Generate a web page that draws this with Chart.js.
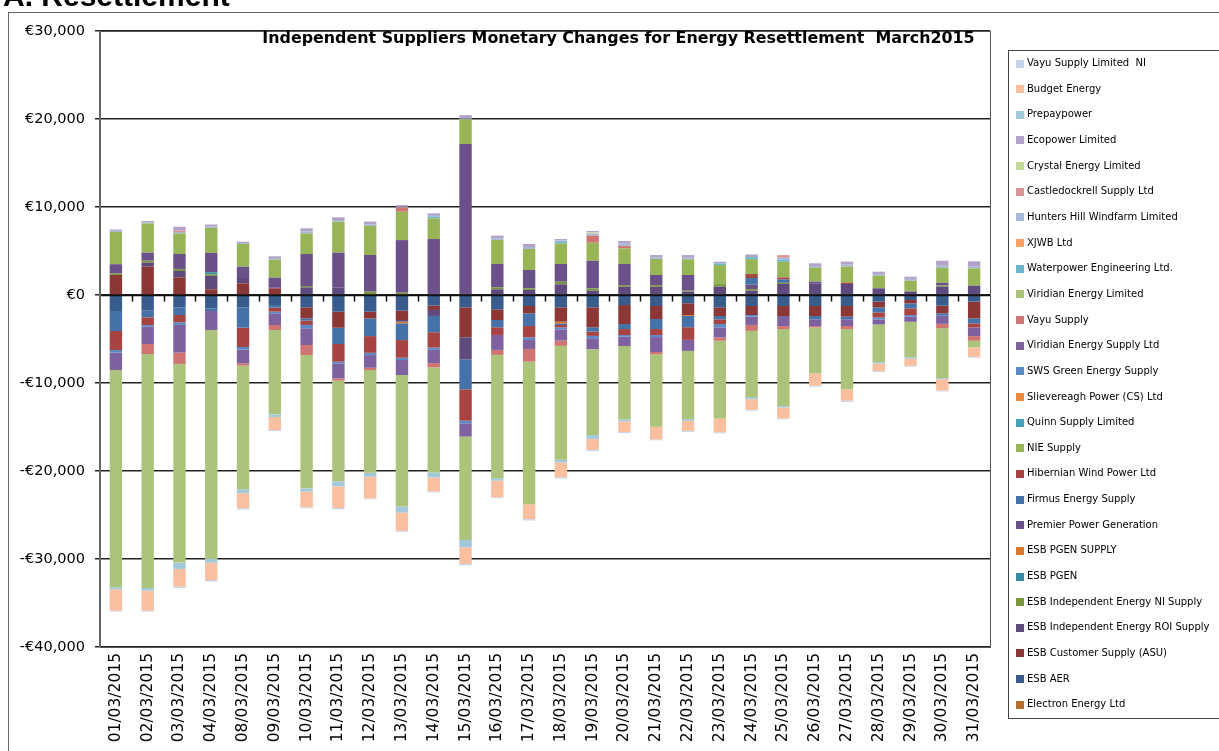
<!DOCTYPE html>
<html>
<head>
<meta charset="utf-8">
<script src="https://cdn.jsdelivr.net/npm/chart.js@4.4.1/dist/chart.umd.min.js"></script>
<style>
  html, body { margin: 0; padding: 0; background: #fff; overflow: hidden; }
  #wrap { position: relative; width: 1219px; height: 751px; }
</style>
</head>
<body>
<div id="wrap"><canvas id="chart" width="1219" height="751"></canvas></div>
<script>
// Categories
const dates = ['01/03/2015','02/03/2015','03/03/2015','04/03/2015','08/03/2015','09/03/2015','10/03/2015',
  '11/03/2015','12/03/2015','13/03/2015','14/03/2015','15/03/2015','16/03/2015','17/03/2015','18/03/2015',
  '19/03/2015','20/03/2015','21/03/2015','22/03/2015','23/03/2015','24/03/2015','25/03/2015','26/03/2015',
  '27/03/2015','28/03/2015','29/03/2015','30/03/2015','31/03/2015'];

// Y ticks
const yMin = -40000, yMax = 30000, yStep = 10000;

// Series values (EUR)
const electron = [0,0,0,0,0,0,0,0,0,0,0,0,0,0,0,0,0,0,0,0,0,0,0,0,0,0,0,0];
const esbAer = [-1820,-1780,-1400,-1520,-1400,-1140,-1400,-1900,-1900,-1780,-1210,-1400,-1630,-1250,-1400,-1400,-1140,-1250,-940,-1400,-1250,-1250,-1250,-1250,-760,-570,-1210,-760];
const esbAsu = [2270,3220,2010,650,1330,760,-1250,-1820,-760,-1060,-490,-3410,-1210,-830,-1630,-2270,-2160,-1480,-1330,-990,-1020,-1140,-1140,-1210,-650,-380,-870,-1900];
const esbRoi = [0,450,720,1520,600,110,870,870,0,-190,-680,-2500,650,570,1210,490,940,940,380,940,490,1250,1330,1250,760,380,940,1060];
const esbNi = [170,230,230,190,0,0,150,0,380,260,0,0,230,190,300,260,190,190,110,300,190,130,0,0,0,110,150,0];
const esbPgen = [0,0,0,230,0,0,0,0,0,0,0,0,0,0,0,0,0,0,0,0,0,0,0,0,0,0,0,0];
const esbPgenSupply = [0,0,0,0,0,0,0,0,0,-190,0,0,0,0,-190,0,0,0,-110,0,0,0,0,0,0,0,0,0];
const premier = [1060,910,1700,2200,1290,1100,3640,3940,4170,5980,6360,17150,2650,2080,2010,3140,2390,1140,1780,0,490,0,190,0,0,0,300,0];
const firmus = [-2270,-760,-870,-300,-2310,-300,-260,-1850,-2010,-1900,-1850,-3410,-830,-1440,-190,-490,-570,-1140,-1280,-380,760,380,-380,-300,-570,-570,-260,-570];
const hibernian = [-2160,-870,-830,0,-2200,-450,-490,-2010,-1900,-2010,-1740,-3560,-870,-1290,-260,-490,-680,-680,-1440,-530,450,230,0,150,-570,-760,0,-450];
const nie = [3670,3330,2350,2840,2580,2050,2350,3520,3300,3220,2350,2800,2730,2390,2350,2050,1780,1820,1780,2160,1700,1780,1590,1820,1440,1140,1700,1970];
const quinn = [0,0,0,0,0,0,0,0,0,0,0,0,0,0,0,0,0,0,0,0,0,0,0,0,0,0,0,0];
const slievereagh = [0,0,0,0,0,0,0,0,0,0,0,0,0,0,0,0,0,0,0,0,0,0,0,0,0,0,0,0];
const sws = [-300,-190,-300,0,-300,-190,-380,-190,-260,-260,-260,-300,0,-300,-230,-260,-190,-230,0,-380,-190,0,0,0,-230,-190,0,0];
const viridianSupply = [-1970,-1970,-3140,-2160,-1550,-1330,-1900,-1700,-1440,-1700,-1510,-1510,-1700,-1020,-1280,-1250,-1060,-1700,-1250,-1140,-940,-1140,-760,-760,-570,-570,-940,-990];
const vayu = [0,-1140,-1290,0,-260,-570,-1140,-260,-260,490,-490,0,-570,-1440,-600,800,260,-260,0,-380,-680,-340,-150,-340,0,0,-490,-530];
const viridianLtd = [-24690,-26590,-22580,-26020,-14050,-9580,-15150,-11440,-11670,-14950,-11930,-11740,-14010,-16200,-12950,-9740,-8330,-8220,-7760,-8820,-7530,-8750,-5230,-6850,-4280,-4050,-5680,-750];
const waterpower = [0,0,0,0,0,0,0,0,0,0,190,0,0,0,150,0,0,0,0,190,230,230,0,0,0,0,0,0];
const xjwb = [0,0,0,0,0,0,0,0,0,0,0,0,0,0,0,0,0,0,0,0,0,0,0,0,0,0,0,0];
const huntersHill = [120,120,150,150,110,180,230,190,190,120,190,110,190,230,190,230,270,200,190,0,0,230,190,230,200,200,240,240];
const castledockrell = [0,0,150,0,0,0,0,0,0,0,0,0,0,0,0,0,0,0,0,0,0,300,0,0,0,0,0,0];
const crystal = [0,0,0,0,0,0,0,0,0,0,0,0,0,0,0,150,0,0,0,0,0,0,0,0,0,0,0,0];
const ecopower = [150,150,450,230,150,200,340,300,300,150,190,380,300,340,150,150,300,250,300,190,300,0,300,340,250,250,560,560];
const prepaypower = [-230,-300,-720,-420,-450,-300,-380,-570,-450,-680,-570,-830,-260,0,-300,-450,-230,0,-190,0,-230,-150,0,0,-150,-150,-110,0];
const budget = [-2430,-2270,-2010,-1970,-1700,-1480,-1780,-2460,-2460,-2080,-1590,-1900,-1900,-1700,-1670,-1250,-1210,-1440,-1140,-1590,-1210,-1250,-1400,-1290,-870,-800,-1290,-1070];
const vayuNi = [-110,-110,-150,-150,-150,-110,-110,-150,-110,-110,-110,-150,-110,-150,-150,-150,-110,-110,-110,-110,-110,-110,-110,-150,-110,-110,-110,-110];

// stacking order (first = nearest zero)
const series = [
  ['Electron Energy Ltd', electron, '#b86d30'],
  ['ESB AER', esbAer, '#385d8c'],
  ['ESB Customer Supply (ASU)', esbAsu, '#8b3736'],
  ['ESB Independent Energy ROI Supply', esbRoi, '#5f4a7d'],
  ['ESB Independent Energy NI Supply', esbNi, '#7a963f'],
  ['ESB PGEN', esbPgen, '#358ca3'],
  ['ESB PGEN SUPPLY', esbPgenSupply, '#d8772e'],
  ['Premier Power Generation', premier, '#6b5189'],
  ['Firmus Energy Supply', firmus, '#4572a8'],
  ['Hibernian Wind Power Ltd', hibernian, '#a74442'],
  ['NIE Supply', nie, '#97b557'],
  ['Quinn Supply Limited', quinn, '#46a2ba'],
  ['Slievereagh Power (CS) Ltd', slievereagh, '#e88a3e'],
  ['SWS Green Energy Supply', sws, '#5b88c6'],
  ['Viridian Energy Supply Ltd', viridianSupply, '#7e62a0'],
  ['Vayu Supply', vayu, '#d07471'],
  ['Viridian Energy Limited', viridianLtd, '#abc37a'],
  ['Waterpower Engineering Ltd.', waterpower, '#6ab7cc'],
  ['XJWB Ltd', xjwb, '#f7a165'],
  ['Hunters Hill Windfarm Limited', huntersHill, '#a5b8d8'],
  ['Castledockrell Supply Ltd', castledockrell, '#d99694'],
  ['Crystal Energy Limited', crystal, '#c4d79b'],
  ['Ecopower Limited', ecopower, '#b3a2c7'],
  ['Prepaypower', prepaypower, '#a2c9da'],
  ['Budget Energy', budget, '#f9bf9f'],
  ['Vayu Supply Limited  NI', vayuNi, '#c6d4ea']
];

// legend order, top to bottom as in the picture
const legendOrder = series.map(s => s[0]).reverse();

function euro(v) {
  const s = '€' + Math.abs(v).toLocaleString('en-US');
  return v < 0 ? '-' + s : s;
}

const framePlugin = {
  id: 'frame',
  beforeDraw(chart) {
    const ctx = chart.ctx;
    ctx.save();
    ctx.fillStyle = '#fff';
    ctx.fillRect(0, 0, chart.width, chart.height);
    ctx.restore();
  },
  afterDatasetsDraw(chart) {
    const ctx = chart.ctx, a = chart.chartArea;
    const xs = chart.scales.x, ys = chart.scales.y;
    ctx.save();
    // zero axis with category tick marks
    const y0 = Math.round(ys.getPixelForValue(0)) + 0.5;
    ctx.strokeStyle = '#111';
    ctx.lineWidth = 1.5;
    ctx.beginPath();
    ctx.moveTo(a.left, y0);
    ctx.lineTo(a.right, y0);
    for (let i = 1; i < dates.length; i++) {
      const x = Math.round((xs.getPixelForValue(i - 1) + xs.getPixelForValue(i)) / 2) + 0.5;
      ctx.moveTo(x, y0);
      ctx.lineTo(x, y0 + 6);
    }
    ctx.stroke();
    // plot border
    ctx.strokeStyle = '#555';
    ctx.lineWidth = 1;
    ctx.strokeRect(Math.round(a.left) + 0.5, Math.round(a.top) + 0.5, Math.round(a.right - a.left), Math.round(a.bottom - a.top));
    ctx.strokeStyle = '#666';
    ctx.lineWidth = 2;
    ctx.beginPath();
    ctx.moveTo(a.left, a.top);
    ctx.lineTo(a.left, a.bottom);
    ctx.stroke();
    ctx.restore();
  },
  afterDraw(chart) {
    const ctx = chart.ctx;
    ctx.save();
    // outer chart border
    ctx.strokeStyle = '#666';
    ctx.lineWidth = 1;
    ctx.strokeRect(8.5, 12.5, 1400, 900);

    // cut-off heading above the chart
    ctx.fillStyle = '#000';
    ctx.font = 'bold 30px "Liberation Sans"';
    ctx.textBaseline = 'alphabetic';
    ctx.fillText('A. Resettlement', 3, 6);

    // title
    const title = 'Independent Suppliers Monetary Changes for Energy Resettlement  March2015';
    ctx.font = 'bold 20px "DejaVu Sans"';
    const w = ctx.measureText(title).width;
    const size = 20 * 713 / w;
    ctx.font = 'bold ' + size.toFixed(2) + 'px "DejaVu Sans"';
    ctx.textBaseline = 'middle';
    ctx.textAlign = 'center';
    ctx.fillText(title, 618.5, 39);

    // legend
    ctx.strokeStyle = '#444';
    ctx.lineWidth = 1;
    ctx.strokeRect(1008.5, 50.5, 300, 668);
    ctx.textAlign = 'left';
    ctx.font = '10px "DejaVu Sans"';
    legendOrder.forEach((name, i) => {
      const ds = chart.data.datasets.find(d => d.label === name);
      const y = 63.5 + i * 25.65;
      ctx.fillStyle = ds.backgroundColor;
      ctx.fillRect(1016, Math.round(y - 4), 8, 8);
      ctx.fillStyle = '#000';
      ctx.fillText(name, 1027, y);
    });
    ctx.restore();
  }
};

new Chart(document.getElementById('chart'), {
  type: 'bar',
  data: {
    labels: dates,
    datasets: series.map(([label, data, color]) => ({
      label, data,
      backgroundColor: color,
      borderWidth: 0,
      categoryPercentage: 1,
      barPercentage: 0.39
    }))
  },
  options: {
    responsive: false,
    animation: false,
    devicePixelRatio: 1,
    layout: { padding: { left: 0, top: 31, right: 229, bottom: 0 } },
    plugins: {
      legend: { display: false },
      title: { display: false },
      tooltip: { enabled: false }
    },
    scales: {
      x: {
        stacked: true,
        grid: { display: false, drawTicks: false },
        border: { display: false },
        ticks: {
          autoSkip: false, minRotation: 90, maxRotation: 90, padding: 6,
          color: '#000', font: { family: 'DejaVu Sans', size: 15.5 }
        },
        afterFit(s) { s.height = 104; }
      },
      y: {
        stacked: true,
        min: yMin, max: yMax,
        grid: { color: '#222', lineWidth: 1.5, tickLength: 5 },
        border: { display: false },
        ticks: {
          stepSize: yStep, padding: 10, color: '#000',
          font: { family: 'DejaVu Sans', size: 14.5 },
          callback: v => euro(v)
        },
        afterFit(s) { s.width = 100; }
      }
    }
  },
  plugins: [framePlugin]
});
</script>
</body>
</html>
